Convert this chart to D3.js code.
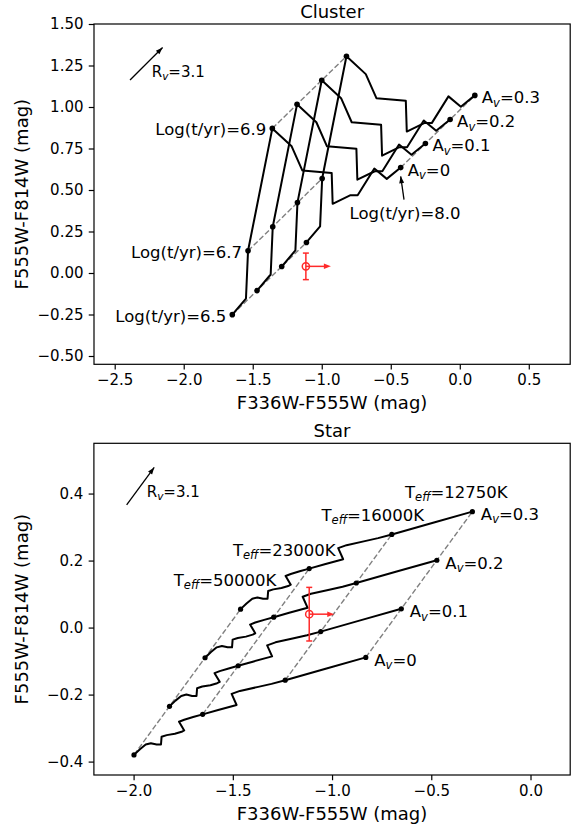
<!DOCTYPE html>
<html>
<head>
<meta charset="utf-8">
<script src="https://cdn.jsdelivr.net/npm/d3@7"></script>
<style>
  body { margin: 0; background: #fff; }
  svg text { font-family: "DejaVu Sans", sans-serif; fill: #000; }
</style>
</head>
<body>
<svg id="fig" width="575" height="834"></svg>
<script>
// Data

// extinction steps and reddening vector (colour excess per mag of Av)
const avSteps = [0, 0.1, 0.2, 0.3];
const avLabels = ["0", "0.1", "0.2", "0.3"];
const reddening = [1.79, 1.45];

// cluster track, Av = 0
const clusterUV = [-1.648, -1.549, -1.534, -1.358, -1.218, -1.141, -0.928, -0.921, -0.795, -0.740, -0.619, -0.529, -0.428];
const clusterVI = [-0.251, -0.154, 0.134, 0.871, 0.763, 0.618, 0.603, 0.417, 0.468, 0.468, 0.629, 0.567, 0.635];
const clusterMarks = [0, 2, 3, 12];
const clusterAges = ["6.5", "6.7", "6.9", "8.0"];

// single star track, Av = 0
const starUV = [-1.998, -1.968, -1.939, -1.913, -1.884, -1.862, -1.859, -1.833, -1.792, -1.758, -1.745, -1.771,
                -1.745, -1.700, -1.652, -1.574, -1.481, -1.506, -1.464, -1.372, -1.305, -1.236, -1.028, -0.830];
const starVI = [-0.380, -0.363, -0.349, -0.345, -0.349, -0.349, -0.326, -0.321, -0.317, -0.311, -0.307, -0.281,
                -0.275, -0.267, -0.259, -0.246, -0.231, -0.198, -0.189, -0.177, -0.168, -0.157, -0.122, -0.089];
const starMarks = [0, 14, 21, 23];
const starTeff = ["50000", "23000", "16000", "12750"];

// observed colours (same in both panels)
const obsPoint = [-1.115, 0.04];
const obsErr = 0.08;

// Rv = 3.1 arrows
const clusterRvArrow = [[-2.389, 1.163], [-2.153, 1.358]];
const clusterRvLabel = [-2.232, 1.213];
const starRvArrow = [[-2.035, 0.366], [-1.896, 0.478]];
const starRvLabel = [-1.934, 0.405];

// ticks
const clusterXTicks = [-2.5, -2, -1.5, -1, -0.5, 0, 0.5];
const clusterYTicks = [-0.5, -0.25, 0, 0.25, 0.5, 0.75, 1, 1.25, 1.5];
const starXTicks = [-2, -1.5, -1, -0.5, 0];
const starYTicks = [-0.4, -0.2, 0, 0.2, 0.4];

const xTitle = "F336W-F555W (mag)";
const yTitle = "F555W-F814W (mag)";

// Drawing

const svg = d3.select("#fig");
const RED = "#ff2a2a";

function arrowHead(g, x1, y1, x2, y2, color, len, wid) {
  const a = Math.atan2(y2 - y1, x2 - x1);
  const bx = x2 - len * Math.cos(a), by = y2 - len * Math.sin(a);
  const nx = Math.sin(a) * wid / 2, ny = -Math.cos(a) * wid / 2;
  g.append("path")
    .attr("d", `M${x2},${y2}L${bx + nx},${by + ny}L${bx - nx},${by - ny}Z`)
    .attr("fill", color);
}

// text with subscripts, y is the visual centre of the capitals
function richText(g, x, y, parts, size, anchor) {
  const t = g.append("text")
    .attr("x", x).attr("y", y + 0.36 * size)
    .attr("font-size", size)
    .attr("text-anchor", anchor);
  let down = false;
  parts.forEach(p => {
    const s = t.append("tspan").text(p[0]);
    if (p[1] === "sub") {
      s.attr("font-size", size * 0.7).attr("font-style", "italic").attr("dy", size * 0.2);
      down = true;
    } else if (down) {
      s.attr("dy", -size * 0.2);
      down = false;
    }
  });
  return t;
}

function shift(u, v, av) {
  return [u + av * reddening[0], v + av * reddening[1]];
}

function panel(o) {
  const x = d3.scaleLinear().domain(o.xDomain).range([o.left, o.right]);
  const y = d3.scaleLinear().domain(o.yDomain).range([o.bottom, o.top]);
  const g = svg.append("g");
  const line = d3.line().x(d => x(d[0])).y(d => y(d[1]));

  // axes
  const xAxis = d3.axisBottom(x).tickValues(o.xTicks).tickFormat(d3.format(o.xFmt))
    .tickSizeOuter(0).tickSize(5.25).tickPadding(5.25);
  const yAxis = d3.axisLeft(y).tickValues(o.yTicks).tickFormat(d3.format(o.yFmt))
    .tickSizeOuter(0).tickSize(5.25).tickPadding(5.25);
  [g.append("g").attr("transform", `translate(0,${o.bottom})`).call(xAxis),
   g.append("g").attr("transform", `translate(${o.left},0)`).call(yAxis)].forEach(a => {
    a.select(".domain").remove();
    a.selectAll("line").attr("stroke", "#000").attr("stroke-width", 1.2);
    a.selectAll("text").attr("font-size", 15).attr("font-family", "DejaVu Sans").attr("fill", "#000");
  });

  g.append("rect")
    .attr("x", o.left).attr("y", o.top)
    .attr("width", o.right - o.left).attr("height", o.bottom - o.top)
    .attr("fill", "none").attr("stroke", "#000").attr("stroke-width", 1.2);

  g.append("text").attr("x", (o.left + o.right) / 2).attr("y", o.top - 6.3)
    .attr("text-anchor", "middle").attr("font-size", 18).text(o.title);
  g.append("text").attr("x", (o.left + o.right) / 2).attr("y", o.bottom + 44.5)
    .attr("text-anchor", "middle").attr("font-size", 18).text(xTitle);
  g.append("text")
    .attr("transform", `translate(28,${(o.top + o.bottom) / 2}) rotate(-90)`)
    .attr("text-anchor", "middle").attr("font-size", 18).text(yTitle);

  // dashed lines joining equal age / Teff across Av
  o.marks.forEach(idx => {
    const pts = avSteps.map(av => shift(o.uv[idx], o.vi[idx], av));
    g.append("path").attr("d", line(pts))
      .attr("fill", "none").attr("stroke", "#808080")
      .attr("stroke-width", 1.4).attr("stroke-dasharray", "5.5,2.4");
  });

  // tracks
  avSteps.forEach(av => {
    const pts = o.uv.map((u, i) => shift(u, o.vi[i], av));
    g.append("path").attr("d", line(pts))
      .attr("fill", "none").attr("stroke", "#000")
      .attr("stroke-width", 2).attr("stroke-linejoin", "round");
  });

  // marked points
  avSteps.forEach(av => {
    o.marks.forEach(idx => {
      const p = shift(o.uv[idx], o.vi[idx], av);
      g.append("circle").attr("cx", x(p[0])).attr("cy", y(p[1]))
        .attr("r", o.dotR).attr("fill", "#000");
    });
  });

  // Av labels at the end of each track
  const last = o.uv.length - 1;
  avSteps.forEach((av, k) => {
    const p = shift(o.uv[last], o.vi[last], av);
    richText(g, x(p[0]) + o.avOff[0], y(p[1]) + o.avOff[1],
      [["A"], ["v", "sub"], ["=" + avLabels[k]]], 16.5, "start");
  });

  // Rv arrow
  const a0 = [x(o.rvArrow[0][0]), y(o.rvArrow[0][1])];
  const a1 = [x(o.rvArrow[1][0]), y(o.rvArrow[1][1])];
  g.append("line").attr("x1", a0[0]).attr("y1", a0[1]).attr("x2", a1[0]).attr("y2", a1[1])
    .attr("stroke", "#000").attr("stroke-width", 1.3);
  arrowHead(g, a0[0], a0[1], a1[0], a1[1], "#000", 7, 5);
  richText(g, x(o.rvLabel[0]), y(o.rvLabel[1]), [["R"], ["v", "sub"], ["=3.1"]], 15, "start");

  // observed point with error bar and lower-limit arrow
  const ox = x(obsPoint[0]), oy = y(obsPoint[1]);
  const yTop = y(obsPoint[1] + obsErr), yBot = y(obsPoint[1] - obsErr);
  const obs = g.append("g").attr("stroke", RED).attr("stroke-width", 1.5).attr("fill", "none");
  obs.append("line").attr("x1", ox).attr("x2", ox).attr("y1", yTop).attr("y2", yBot);
  obs.append("line").attr("x1", ox - 3).attr("x2", ox + 3).attr("y1", yTop).attr("y2", yTop);
  obs.append("line").attr("x1", ox - 3).attr("x2", ox + 3).attr("y1", yBot).attr("y2", yBot);
  obs.append("line").attr("x1", ox).attr("x2", ox + 19).attr("y1", oy).attr("y2", oy);
  obs.append("circle").attr("cx", ox).attr("cy", oy).attr("r", 3.6);
  arrowHead(g, ox, oy, ox + 25, oy, RED, 7, 5.5);

  return {g, x, y, line};
}

// Cluster panel
const clusterPanel = panel({
  title: "Cluster",
  left: 94, right: 570.2, top: 24, bottom: 364.3,
  xDomain: [-2.65, 0.8], yDomain: [-0.55, 1.5],
  xTicks: clusterXTicks, yTicks: clusterYTicks, xFmt: ".1f", yFmt: ".2f",
  uv: clusterUV, vi: clusterVI, marks: clusterMarks,
  dotR: 2.8, avOff: [7, 2],
  rvArrow: clusterRvArrow, rvLabel: clusterRvLabel
});

clusterMarks.forEach((idx, k) => {
  const px = clusterPanel.x(clusterUV[idx]), py = clusterPanel.y(clusterVI[idx]);
  const label = "Log(t/yr)=" + clusterAges[k];
  if (k < 3) {
    richText(clusterPanel.g, px - 6, py + 1, [[label]], 16.5, "end");
  } else {
    richText(clusterPanel.g, px + 4.3, py + 45.3, [[label]], 16.5, "middle");
    clusterPanel.g.append("line").attr("x1", px + 3.3).attr("y1", py + 32).attr("x2", px).attr("y2", py + 8.7)
      .attr("stroke", "#000").attr("stroke-width", 1.3);
    arrowHead(clusterPanel.g, px + 3.3, py + 32, px, py + 8.7, "#000", 7, 5);
  }
});

// Star panel
const starPanel = panel({
  title: "Star",
  left: 93.9, right: 570.2, top: 443.3, bottom: 775,
  xDomain: [-2.2, 0.2], yDomain: [-0.44, 0.55],
  xTicks: starXTicks, yTicks: starYTicks, xFmt: ".1f", yFmt: ".1f",
  uv: starUV, vi: starVI, marks: starMarks,
  dotR: 2.6, avOff: [8.5, 2.5],
  rvArrow: starRvArrow, rvLabel: starRvLabel
});

const teffOff = [[-15.5, -29], [-25, -19], [-19, -19.3], [-16, -19.4]];
starMarks.forEach((idx, k) => {
  const p = shift(starUV[idx], starVI[idx], avSteps[avSteps.length - 1]);
  richText(starPanel.g, starPanel.x(p[0]) + teffOff[k][0], starPanel.y(p[1]) + teffOff[k][1],
    [["T"], ["eff", "sub"], ["=" + starTeff[k] + "K"]], 16.5, "middle");
});
</script>
</body>
</html>
